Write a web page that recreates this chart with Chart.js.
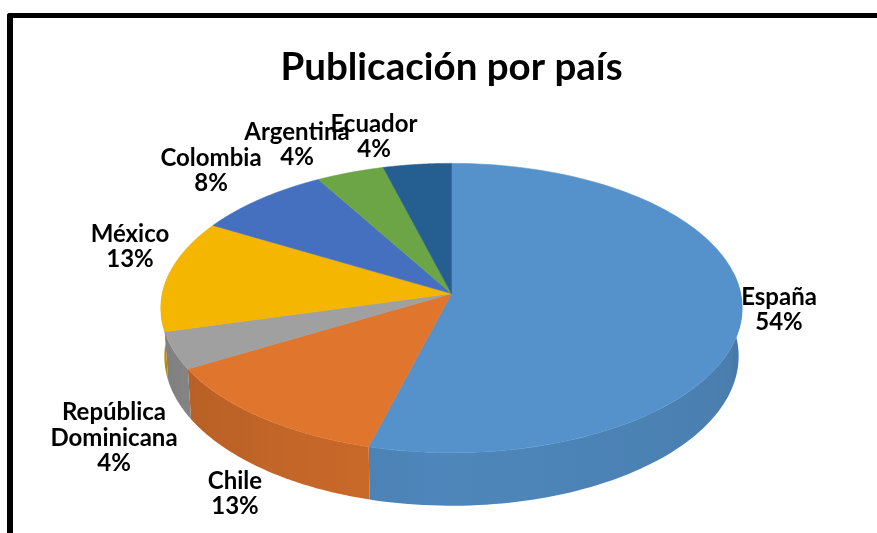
<!DOCTYPE html>
<html lang="es">
<head>
<meta charset="utf-8">
<title>Publicación por país</title>
<script src="https://cdn.jsdelivr.net/npm/chart.js@4/dist/chart.umd.min.js"></script>
<style>
  html, body { margin: 0; padding: 0; background: #fff; overflow: hidden; width: 877px; height: 533px; }
  #frame {
    position: absolute; left: 7px; top: 13px; width: 875px; height: 530px;
    border-left: 6px solid #000; border-top: 5px solid #000; border-top-left-radius: 3px;
    background: #fff;
  }
  canvas { display: block; }
</style>
</head>
<body>
<div id="frame"><canvas id="chart" width="875" height="515"></canvas></div>
<script>
const paises  = ['España', 'Chile', 'República Dominicana', 'México', 'Colombia', 'Argentina', 'Ecuador'];
const valores = [13, 3, 1, 3, 2, 1, 1];
const colores = ['#5592CB', '#E0752E', '#A0A0A0', '#F4B600', '#4470BF', '#6BA546', '#255E91'];

// label lines and their centres, in page pixels
const lineasEtiqueta = [['España'], ['Chile'], ['República', 'Dominicana'], ['México'], ['Colombia'], ['Argentina'], ['Ecuador']];
const centrosEtiqueta = [[779, 310], [235, 494], [114, 438], [130, 247], [211, 171], [297, 145], [374, 137]];

const CANVAS_X = 13, CANVAS_Y = 18;
const LINE_H = 25.3;

// perspective of the tilted pie, relative to the arc radius
const K_RX = 1.48, K_RY = 0.733, K_PERSP = 0.1;
const DEPTH = 47.7, BOTTOM_SHRINK = 0.988;

function project(el, a, lower) {
  const u = Math.cos(a), v = Math.sin(a);
  const w = 1 / (1 - K_PERSP * v);
  const sx = lower ? BOTTOM_SHRINK : 1;
  return {
    x: el.x + el.outerRadius * K_RX * u * w * sx,
    y: el.y + el.outerRadius * K_RY * v * w + (lower ? DEPTH * w : 0),
  };
}

function shade(hex, f) {
  const n = parseInt(hex.slice(1), 16);
  const c = s => Math.round(((n >> s) & 255) * f);
  return `rgb(${c(16)},${c(8)},${c(0)})`;
}

function wallFactor(a) {
  const deg = a * 180 / Math.PI;      // 90 = front, 0 = right, 180 = left
  return deg > 90 ? 0.92 - 0.15 * (deg - 90) / 90 : 0.92 - 0.08 * (90 - deg) / 90;
}

// one side wall per slice, shaded left to right with a gradient
function drawWall(ctx, el) {
  const from = Math.max(el.startAngle, -0.15);
  const to = Math.min(el.endAngle, Math.PI + 0.15);
  if (to <= from) return;
  const N = 80;
  const top = [], low = [];
  for (let i = 0; i <= N; i++) {
    const a = from + (to - from) * i / N;
    top.push(project(el, a, false));
    low.push(project(el, a, true));
  }
  const xs = top.concat(low).map(p => p.x);
  const x0 = Math.min(...xs), x1 = Math.max(...xs);
  const grad = ctx.createLinearGradient(x0, 0, x1, 0);
  for (let i = 0; i <= N; i += 4) {
    const a = from + (to - from) * i / N;
    const off = (top[i].x - x0) / (x1 - x0);
    grad.addColorStop(Math.min(1, Math.max(0, off)), shade(el.options.backgroundColor, wallFactor(a)));
  }
  ctx.beginPath();
  top.forEach((q, i) => i ? ctx.lineTo(q.x, q.y) : ctx.moveTo(q.x, q.y));
  low.reverse().forEach(q => ctx.lineTo(q.x, q.y));
  ctx.closePath();
  ctx.fillStyle = grad;
  ctx.fill();
}

const pie3d = {
  id: 'pie3d',
  beforeDatasetDraw(chart) {
    const ctx = chart.ctx;
    const arcs = chart.getDatasetMeta(0).data;

    arcs.forEach(el => drawWall(ctx, el));

    // top face
    arcs.forEach(el => {
      const col = el.options.backgroundColor;
      ctx.beginPath();
      ctx.moveTo(el.x, el.y);
      for (let i = 0; i <= 120; i++) {
        const q = project(el, el.startAngle + (el.endAngle - el.startAngle) * i / 120, false);
        ctx.lineTo(q.x, q.y);
      }
      ctx.closePath();
      ctx.fillStyle = col;
      ctx.strokeStyle = col;
      ctx.lineWidth = 0.6;
      ctx.fill();
      ctx.stroke();
    });
    return false;
  },
  afterDraw(chart) {
    const ctx = chart.ctx;
    ctx.save();
    ctx.font = 'bold 24px Lato';
    ctx.fillStyle = '#000';
    ctx.textAlign = 'center';
    ctx.textBaseline = 'middle';
    const total = valores.reduce((s, v) => s + v, 0);
    lineasEtiqueta.forEach((lineas, i) => {
      const rows = [...lineas, Math.round(valores[i] / total * 100) + '%'];
      const [cx, cy] = centrosEtiqueta[i];
      rows.forEach((t, j) => {
        ctx.fillText(t, cx - CANVAS_X, cy - CANVAS_Y + (j - (rows.length - 1) / 2) * LINE_H);
      });
    });
    ctx.restore();
  },
};

new Chart(document.getElementById('chart'), {
  type: 'pie',
  data: {
    labels: paises,
    datasets: [{ data: valores, backgroundColor: colores, borderWidth: 0 }],
  },
  plugins: [pie3d],
  options: {
    responsive: false,
    animation: false,
    layout: { padding: { left: 2, bottom: 44 } },
    plugins: {
      legend: { display: false },
      tooltip: { enabled: false },
      title: {
        display: true,
        text: 'Publicación por país',
        color: '#000',
        font: { family: 'Lato', size: 38.5, weight: 'bold', lineHeight: 1.2 },
        padding: { top: 26, bottom: 8 },
      },
    },
  },
});
</script>
</body>
</html>
